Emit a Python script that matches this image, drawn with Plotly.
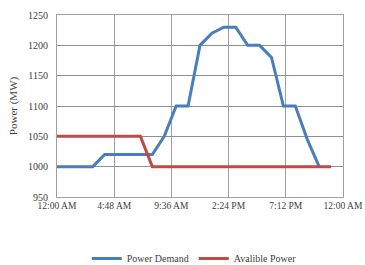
import plotly.graph_objects as go

hours = list(range(0, 24))
demand_hours = list(range(0, 23))
power_demand = [1000, 1000, 1000, 1000, 1020, 1020, 1020, 1020, 1020, 1050, 1100, 1100,
                1200, 1220, 1230, 1230, 1200, 1200, 1180, 1100, 1100, 1045, 1000]
avalible_power = [1050, 1050, 1050, 1050, 1050, 1050, 1050, 1050, 1000, 1000, 1000, 1000,
                  1000, 1000, 1000, 1000, 1000, 1000, 1000, 1000, 1000, 1000, 1000, 1000]
tick_vals = [0, 4.8, 9.6, 14.4, 19.2, 24]
tick_text = ["12:00 AM", "4:48 AM", "9:36 AM", "2:24 PM", "7:12 PM", "12:00 AM"]
y_ticks = [950, 1000, 1050, 1100, 1150, 1200, 1250]

font = dict(family="Liberation Serif, Times New Roman, serif", size=10, color="#404040")

fig = go.Figure()
fig.add_trace(go.Scatter(x=demand_hours, y=power_demand, mode="lines", name="Power Demand",
                         line=dict(color="#4A7EBB", width=3)))
fig.add_trace(go.Scatter(x=hours, y=avalible_power, mode="lines", name="Avalible Power",
                         line=dict(color="#BE4B48", width=3)))

fig.update_layout(
    width=365, height=265,
    margin=dict(l=57, r=22, t=15, b=68),
    paper_bgcolor="white", plot_bgcolor="white",
    font=font,
    showlegend=True,
    legend=dict(orientation="h", x=0.48, xanchor="center",
                yref="container", y=0.025, yanchor="middle",
                font=dict(family=font["family"], size=10, color="#404040"),
                itemwidth=30, bgcolor="rgba(0,0,0,0)"),
    xaxis=dict(range=[0, 24], tickvals=tick_vals, ticktext=tick_text, showgrid=True,
               gridcolor="#A0A0A0", gridwidth=1, showline=True, linecolor="#A0A0A0",
               mirror=True, zeroline=False, ticks="", automargin=False,
               ticklabeloverflow="allow",
               tickfont=dict(family=font["family"], size=9.5, color="#404040")),
    yaxis=dict(range=[950, 1250], tickvals=y_ticks, showgrid=True, gridcolor="#909090",
               gridwidth=1, showline=True, linecolor="#A0A0A0", mirror=True, zeroline=False,
               ticks="", tickfont=font, automargin=False, ticklabelstandoff=6,
               title=dict(text="Power (MW)", font=dict(family=font["family"], size=11, color="#404040"),
                          standoff=8)),
)

fig.write_html("out.html", post_script="document.body.style.margin='0';",
               config={"displayModeBar": False})
